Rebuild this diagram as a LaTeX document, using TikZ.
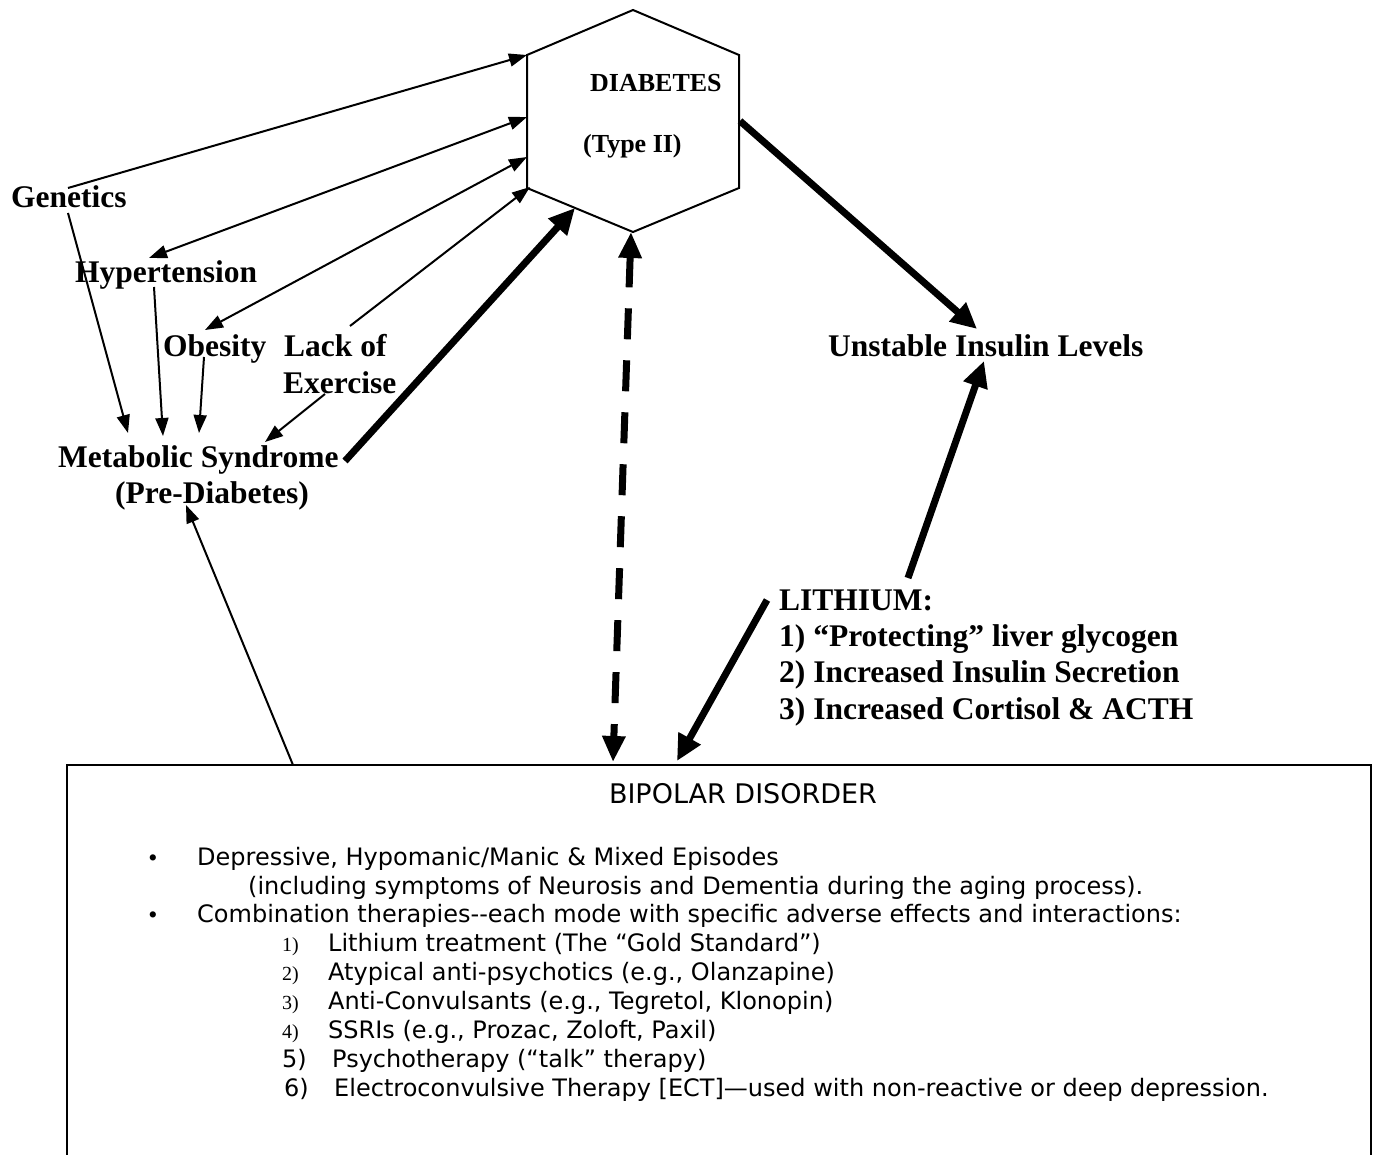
\documentclass[tikz,border=0pt]{standalone}
\usepackage{fontspec}
\setmainfont{Liberation Serif}
\newfontfamily\boxfont{DejaVu Sans}
\usetikzlibrary{arrows.meta}
\begin{document}
\begin{tikzpicture}[x=1pt,y=-1pt,
  lbl/.style={font=\fontsize{31.5}{36}\selectfont\bfseries, inner sep=0pt, anchor=base west},
  dlbl/.style={font=\fontsize{26}{30}\selectfont\bfseries, inner sep=0pt, anchor=base west},
  boxtxt/.style={font=\boxfont\fontsize{24}{29}\selectfont, inner sep=0pt, anchor=base west},
  numtxt/.style={font=\fontsize{20}{24}\selectfont, inner sep=0pt, anchor=base west},
  thinarr/.style={line width=2pt, -{Triangle[length=18pt,width=13pt]}},
  thinbi/.style={line width=2pt, {Triangle[length=18pt,width=13pt]}-{Triangle[length=18pt,width=13pt]}},
  thickarr/.style={line width=7pt, -{Triangle[length=26pt,width=24pt]}},
  dashbi/.style={line width=7pt, dash pattern=on 31pt off 21pt, {Triangle[length=26pt,width=22pt]}-{Triangle[length=26pt,width=22pt]}},
  edge/.style={line width=2pt}
]
\useasboundingbox (0,0) rectangle (1376,1155);

% hexagon
\coordinate (hT) at (633,10);
\coordinate (hUR) at (739,55);
\coordinate (hLR) at (739,188);
\coordinate (hB) at (633,232);
\coordinate (hLL) at (527,188);
\coordinate (hUL) at (527,55);
\draw[edge, line join=miter] (hT) -- (hUR) -- (hLR) -- (hB) -- (hLL) -- (hUL) -- cycle;
\node[dlbl] (diab) at (590,92) {DIABETES};
\node[dlbl] (type) at (583,153) {(Type II)};

% labels
\node[lbl] (gen) at (11,208) {Genetics};
\node[lbl] (hyp) at (75,283) {Hypertension};
\node[lbl] (obe) at (163,357) {Obesity};
\node[lbl] (lack) at (284,357) {Lack of};
\node[lbl] (exer) at (283,393) {Exercise};
\node[lbl] (met) at (58,467) {Metabolic Syndrome};
\node[lbl] (pre) at (115,503) {(Pre-Diabetes)};
\node[lbl] (uns) at (828,357) {Unstable Insulin Levels};
\node[lbl] (li0) at (779,610) {LITHIUM:};
\node[lbl] (li1) at (779,646) {1) “Protecting” liver glycogen};
\node[lbl] (li2) at (779,682) {2) Increased Insulin Secretion};
\node[lbl] (li3) at (779,719) {3) Increased Cortisol \& ACTH};

% box
\coordinate (bxBL) at (67,1156);
\coordinate (bxTL) at (67,765);
\coordinate (bxTR) at (1371,765);
\coordinate (bxBR) at (1371,1156);
\draw[edge] (bxBL) -- (bxTL) -- (bxTR) -- (bxBR);
\node[boxtxt, anchor=base] (bp) at (743,803) {\fontsize{27}{32}\selectfont BIPOLAR DISORDER};
\node[font=\fontsize{26}{29}\selectfont, inner sep=0pt, anchor=base] (b1) at (153,866) {\textbullet};
\node[font=\fontsize{26}{29}\selectfont, inner sep=0pt, anchor=base] (b2) at (153,923) {\textbullet};
\node[boxtxt] (t1) at (197,865) {Depressive, Hypomanic/Manic \& Mixed Episodes};
\node[boxtxt] (t1b) at (248,894) {(including symptoms of Neurosis and Dementia during the aging process).};
\node[boxtxt] (t2) at (197,922) {Combination therapies-{}-each mode with specific adverse effects and interactions:};
\node[numtxt] (n1) at (282,951) {1)};
\node[boxtxt] (i1) at (328,951) {Lithium treatment (The “Gold Standard”)};
\node[numtxt] (n2) at (282,980) {2)};
\node[boxtxt] (i2) at (328,980) {Atypical anti-psychotics (e.g., Olanzapine)};
\node[numtxt] (n3) at (282,1009) {3)};
\node[boxtxt] (i3) at (328,1009) {Anti-Convulsants (e.g., Tegretol, Klonopin)};
\node[numtxt] (n4) at (282,1038) {4)};
\node[boxtxt] (i4) at (328,1038) {SSRIs (e.g., Prozac, Zoloft, Paxil)};
\node[boxtxt] (n5) at (282,1067) {5)};
\node[boxtxt] (i5) at (332,1067) {Psychotherapy (“talk” therapy)};
\node[boxtxt] (n6) at (284,1096) {6)};
\node[boxtxt] (i6) at (334,1096) {Electroconvulsive Therapy [ECT]—used with non-reactive or deep depression.};

% connector end points
\coordinate (genTop) at (68,188);
\coordinate (genBot) at (68,213);
\coordinate (hypTip) at (149,258);
\coordinate (hypBot) at (154,287);
\coordinate (hexHyp) at (527,117);
\coordinate (hexObe) at (527,157);
\coordinate (obeTip) at (205,330);
\coordinate (obeBot) at (204,357);
\coordinate (lackTop) at (350,326);
\coordinate (hexLack) at (530,187);
\coordinate (exerBot) at (325,394);
\coordinate (metG) at (128,433);
\coordinate (metH) at (163,436);
\coordinate (metO) at (199,433);
\coordinate (metE) at (265,442);
\coordinate (metR) at (345,461);
\coordinate (hexMet) at (575,208);
\coordinate (preTip) at (186,505);
\coordinate (boxPre) at (293,765);
\coordinate (hexBot) at (631,232);
\coordinate (boxDash) at (613,762);
\coordinate (hexR) at (740,121);
\coordinate (unsTip) at (977,329);
\coordinate (unsBot) at (984,361);
\coordinate (liUp) at (908,578);
\coordinate (liLeft) at (767,600);
\coordinate (boxLi) at (677,761);

\draw[thinarr] (genTop) -- (hUL);
\draw[thinbi] (hypTip) -- (hexHyp);
\draw[thinbi] (obeTip) -- (hexObe);
\draw[thinarr] (lackTop) -- (hexLack);
\draw[thinarr] (genBot) -- (metG);
\draw[thinarr] (hypBot) -- (metH);
\draw[thinarr] (obeBot) -- (metO);
\draw[thinarr] (exerBot) -- (metE);
\draw[thinarr] (boxPre) -- (preTip);
\draw[thickarr] (metR) -- (hexMet);
\draw[dashbi] (hexBot) -- (boxDash);
\draw[thickarr] (hexR) -- (unsTip);
\draw[thickarr] (liUp) -- (unsBot);
\draw[thickarr] (liLeft) -- (boxLi);
\end{tikzpicture}
\end{document}
